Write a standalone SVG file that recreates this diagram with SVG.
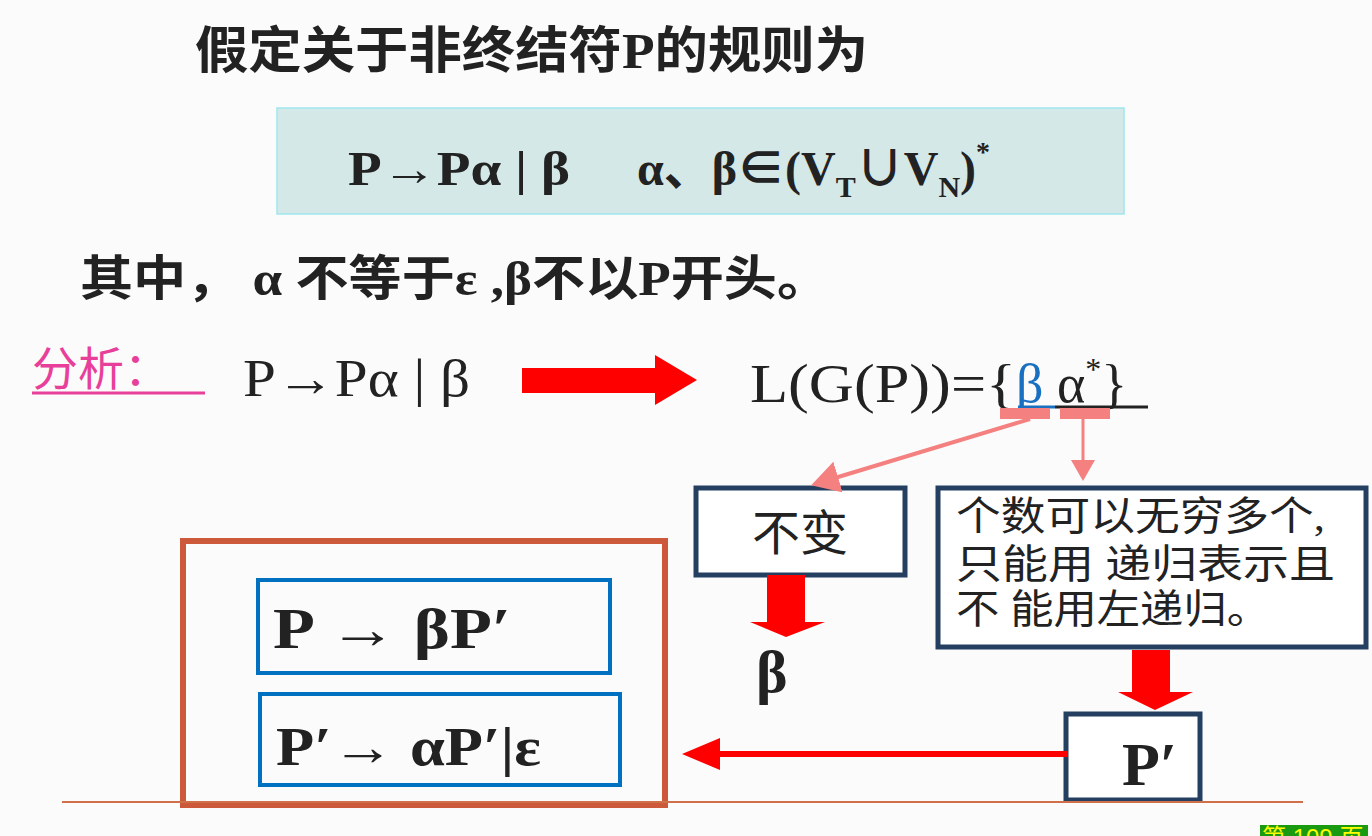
<svg xmlns="http://www.w3.org/2000/svg" width="1372" height="836" viewBox="0 0 1372 836">
<style>
.s{font-family:"Liberation Serif","Noto Sans CJK SC",serif;fill:#222}
.b{font-weight:bold}
.dk{fill:#fff;stroke:#243f60;stroke-width:5}
.bl{fill:none;stroke:#0070c0;stroke-width:4}
</style>
<defs>
<marker id="pk" markerWidth="8" markerHeight="8" refX="6" refY="4" orient="auto" markerUnits="strokeWidth"><path d="M0,0L7,4L0,8z" fill="#f48080"/></marker>
</defs>
<rect width="1372" height="836" fill="#fbfbfb"/>
<g id="title"><text class="s b" x="195" y="68" font-size="50" textLength="673" lengthAdjust="spacingAndGlyphs">假定关于非终结符P的规则为</text></g>
<g id="rule">
<rect x="277" y="108" width="847" height="106" fill="#d4e8e8" stroke="#9ee8ee" stroke-width="1.5"/>
<text class="s b" x="348" y="185" font-size="48"><tspan textLength="222" lengthAdjust="spacingAndGlyphs">P→Pα | β</tspan><tspan x="637">α、β∈(V</tspan><tspan font-size="30" dy="12">T</tspan><tspan dy="-12">∪V</tspan><tspan font-size="30" dy="12">N</tspan><tspan dy="-12">)</tspan><tspan font-size="28" dy="-24">*</tspan></text>
</g>
<g id="cond"><text class="s b" x="80" y="295" font-size="48" textLength="750" lengthAdjust="spacingAndGlyphs">其中， α 不等于ε ,β不以P开头。</text></g>
<g id="analysis">
<text class="s" x="32" y="385" font-size="46" style="fill:#e8409a">分析：</text>
<line x1="32" y1="393" x2="205" y2="393" stroke="#e8409a" stroke-width="3"/>
<text class="s" x="243" y="396" font-size="52" textLength="227" lengthAdjust="spacingAndGlyphs">P→Pα | β</text>
<text class="s" x="750" y="402" font-size="54"><tspan textLength="266" lengthAdjust="spacingAndGlyphs">L(G(P))={</tspan><tspan style="fill:#1a70c0">β</tspan> α<tspan font-size="32" dy="-22">*</tspan><tspan dy="22">}</tspan></text>
<line x1="1018" y1="407" x2="1055" y2="407" stroke="#1a70c0" stroke-width="3"/>
<line x1="1055" y1="407" x2="1148" y2="407" stroke="#222" stroke-width="3"/>
</g>
<g id="n1"><rect class="dk" x="696" y="488" width="209" height="87"/><text class="s" x="800" y="550" font-size="48" text-anchor="middle">不变</text></g>
<g id="n2"><rect class="dk" x="938" y="488" width="428" height="159"/>
<text class="s" x="956" y="530" font-size="40" textLength="369" lengthAdjust="spacingAndGlyphs">个数可以无穷多个,</text>
<text class="s" x="956" y="578" font-size="40" textLength="379" lengthAdjust="spacingAndGlyphs">只能用 递归表示且</text>
<text class="s" x="956" y="623" font-size="40" textLength="314" lengthAdjust="spacingAndGlyphs">不 能用左递归。</text></g>
<g id="n3"><text class="s b" x="756" y="692" font-size="60">β</text></g>
<g id="n4"><rect class="dk" x="1066" y="714" width="134" height="86"/><text class="s b" x="1122" y="785" font-size="62">P′</text></g>
<g id="result">
<rect x="183" y="541" width="482" height="264" fill="none" stroke="#cc5a3a" stroke-width="6"/>
<rect class="bl" x="258" y="580" width="352" height="93"/>
<rect class="bl" x="260" y="694" width="360" height="91"/>
<text class="s b" x="273" y="648" font-size="56" textLength="238" lengthAdjust="spacingAndGlyphs">P → βP′</text>
<text class="s b" x="276" y="765" font-size="54" textLength="265" lengthAdjust="spacingAndGlyphs">P′→ αP′|ε</text>
</g>
<g id="connectors">
<rect x="1000" y="408" width="50" height="11" fill="#f48080"/>
<rect x="1060" y="408" width="50" height="11" fill="#f48080"/>
<line x1="1030" y1="419" x2="815" y2="484" stroke="#f48080" stroke-width="4" marker-end="url(#pk)"/>
<line x1="1083" y1="419" x2="1083" y2="478" stroke="#f48080" stroke-width="3" marker-end="url(#pk)"/>
<path d="M522,368H655V355L697,380L655,405V393H522z" fill="#f00"/>
<path d="M767,575H805V622H825L786,637L750,622H767z" fill="#f00"/>
<path d="M1132,650H1170V692H1193L1155,710L1118,692H1132z" fill="#f00"/>
<line x1="1068" y1="754" x2="715" y2="754" stroke="#f00" stroke-width="6"/>
<path d="M720,738L682,754L720,770z" fill="#f00"/>
</g>
<line x1="62" y1="802" x2="1303" y2="802" stroke="#d0704a" stroke-width="2"/>
<g id="footer"><rect x="1260" y="825" width="108" height="11" fill="#1a9a10"/><text x="1262" y="846" font-family="Liberation Sans,Noto Sans CJK SC,sans-serif" font-size="24" fill="#ff0">第 109 页</text></g>
</svg>
